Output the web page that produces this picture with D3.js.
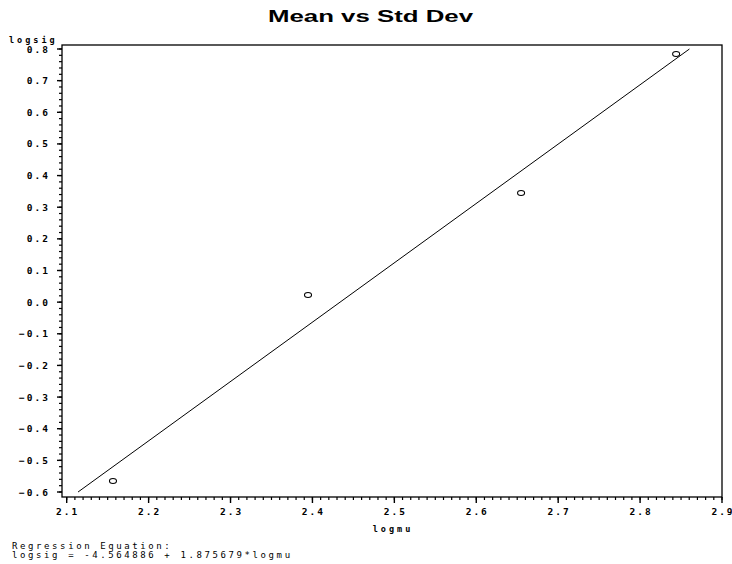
<!DOCTYPE html>
<html>
<head>
<meta charset="utf-8">
<script src="https://cdn.jsdelivr.net/npm/d3@7"></script>
<style>
  body { margin: 0; background: #fff; }
  text { fill: #000; }
  .tick-lbl { font-family: "DejaVu Sans Mono", monospace; font-weight: bold; font-size: 9.5px; letter-spacing: 2px; }
</style>
</head>
<body>
<svg width="732" height="564"></svg>
<script>
// data
var logmu  = [2.1565, 2.3946, 2.6547, 2.844];
var logsig = [-0.565, 0.0225, 0.345, 0.784];
var intercept = -4.564886, slope = 1.875679;
var xTicks = [2.1, 2.2, 2.3, 2.4, 2.5, 2.6, 2.7, 2.8, 2.9];
var yTicks = [-0.6, -0.5, -0.4, -0.3, -0.2, -0.1, 0.0, 0.1, 0.2, 0.3, 0.4, 0.5, 0.6, 0.7, 0.8];
var fitRange = [-0.6, 0.8];   // regression line drawn between these logsig values

var svg = d3.select("svg"),
    fLeft = 62, fRight = 722, fTop = 45, fBottom = 497;

var x = d3.scaleLinear().domain([2.1, 2.9]).range([66.7, 722]);
var y = d3.scaleLinear().domain([-0.6, 0.8]).range([492, 49]);

// title, stretched wide like the original
svg.append("text")
    .attr("x", 268).attr("y", 21.5)
    .attr("textLength", 205).attr("lengthAdjust", "spacingAndGlyphs")
    .style("font-family", "Liberation Sans, Arial, sans-serif")
    .style("font-weight", "bold").style("font-size", "16px")
    .text("Mean vs Std Dev");

// frame
svg.append("rect")
    .attr("x", fLeft).attr("y", fTop)
    .attr("width", fRight - fLeft).attr("height", fBottom - fTop)
    .attr("fill", "none").attr("stroke", "#000").attr("stroke-width", 1.3);

// y axis ticks
var yMinor = d3.range(-0.6, 0.8001, 0.02);
svg.append("g").selectAll("line.ymin")
    .data(yMinor).enter().append("line")
      .attr("x1", fLeft - 3).attr("x2", fLeft)
      .attr("y1", d => y(d)).attr("y2", d => y(d))
      .attr("stroke", "#000").attr("stroke-width", 1.2);
svg.append("g").selectAll("line.ymaj")
    .data(yTicks).enter().append("line")
      .attr("x1", fLeft - 5).attr("x2", fLeft)
      .attr("y1", d => y(d)).attr("y2", d => y(d))
      .attr("stroke", "#000").attr("stroke-width", 1.4);
svg.append("g").selectAll("text")
    .data(yTicks).enter().append("text")
      .attr("class", "tick-lbl")
      .attr("x", 50).attr("y", d => y(d) + 3.5)
      .attr("text-anchor", "end")
      .text(d => (d < 0 ? "\u2212" : "") + Math.abs(d).toFixed(1));

// x axis ticks
var xMinor = d3.range(2.1, 2.9001, 0.01);
svg.append("g").selectAll("line.xmin")
    .data(xMinor).enter().append("line")
      .attr("x1", d => x(d)).attr("x2", d => x(d))
      .attr("y1", fBottom).attr("y2", fBottom + 3)
      .attr("stroke", "#000").attr("stroke-width", 1.2);
svg.append("g").selectAll("line.xmaj")
    .data(xTicks).enter().append("line")
      .attr("x1", d => x(d)).attr("x2", d => x(d))
      .attr("y1", fBottom).attr("y2", fBottom + 6)
      .attr("stroke", "#000").attr("stroke-width", 1.4);
svg.append("g").selectAll("text")
    .data(xTicks).enter().append("text")
      .attr("class", "tick-lbl")
      .attr("x", d => x(d) + 1).attr("y", 515)
      .attr("text-anchor", "middle")
      .text(d => d.toFixed(1));

// axis labels
svg.append("text")
    .attr("class", "tick-lbl")
    .attr("x", 9).attr("y", 43)
    .style("font-size", "8.5px").style("letter-spacing", "3px")
    .text("logsig");
svg.append("text")
    .attr("class", "tick-lbl")
    .attr("x", 393).attr("y", 532)
    .attr("text-anchor", "middle")
    .style("font-size", "8.5px").style("letter-spacing", "3px")
    .text("logmu");

// regression line
var fx = v => (v - intercept) / slope;
svg.append("line")
    .attr("x1", x(fx(fitRange[0]))).attr("y1", y(fitRange[0]))
    .attr("x2", x(fx(fitRange[1]))).attr("y2", y(fitRange[1]))
    .attr("stroke", "#000").attr("stroke-width", 1);

// points
svg.append("g").selectAll("ellipse")
    .data(logmu).enter().append("ellipse")
      .attr("cx", d => x(d))
      .attr("cy", (d, i) => y(logsig[i]))
      .attr("rx", 3.5).attr("ry", 2.5)
      .attr("fill", "none").attr("stroke", "#000").attr("stroke-width", 1.1);

// regression equation footnote
var foot = svg.append("text")
    .style("font-family", "DejaVu Sans Mono, monospace")
    .style("font-size", "9px").style("letter-spacing", "2.6px");
foot.append("tspan").attr("x", 12).attr("y", 549).text("Regression Equation:");
foot.append("tspan").attr("x", 12).attr("y", 557.5)
    .text("logsig = " + intercept.toFixed(6) + " + " + slope.toFixed(6) + "*logmu");
</script>
</body>
</html>
